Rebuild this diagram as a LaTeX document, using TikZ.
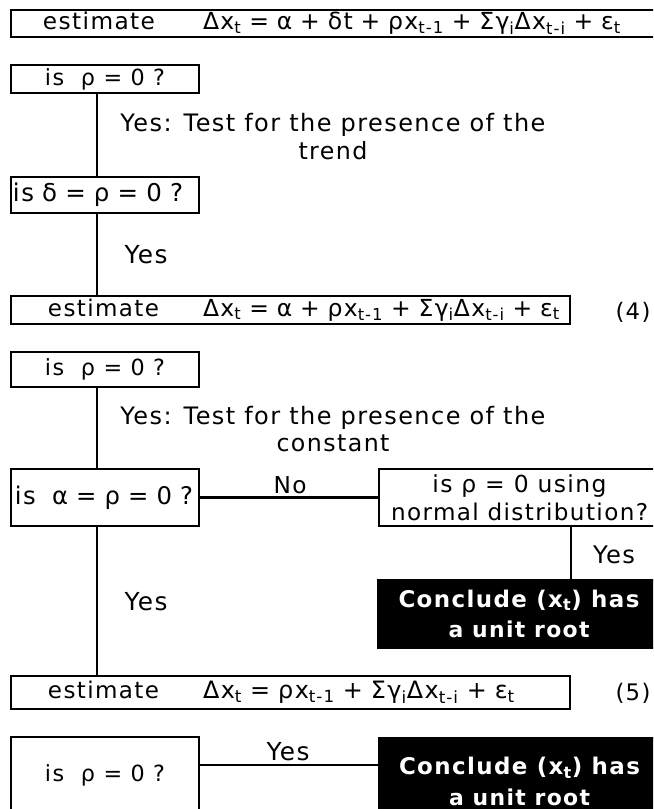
\documentclass[tikz,border=0pt]{standalone}
\usepackage{fontspec}
\usepackage{graphicx}
\setmainfont{DejaVu Sans}[LetterSpace=6]
\newcommand{\fitw}[2]{\resizebox{#1}{!}{#2}}
\begin{document}
\begin{tikzpicture}[x=0.75pt,y=-0.75pt,
  bx/.style={draw, line width=2pt, inner sep=0pt, outer sep=0pt, anchor=north west, align=center,
     font=\fontsize{16.9pt}{21pt}\selectfont},
  blk/.style={bx, fill=black, text=white, font=\fontsize{16.9pt}{23pt}\selectfont\bfseries},
  lbl/.style={inner sep=0pt, align=center, font=\fontsize{16.9pt}{20.5pt}\selectfont},
  ln/.style={line width=2pt}]
\clip (0,0) rectangle (653,809);
\fill[white] (0,0) rectangle (653,809);
% boxes
\node[bx, text width=486.75pt, minimum height=20.25pt, align=left] (b0) at (11,10)
  {\hspace*{24pt}\makebox[120pt][l]{\fitw{84pt}{estimate}}\fitw{313.5pt}{Δx\textsubscript{t} = α + δt + ρx\textsubscript{t-1} + Σγ\textsubscript{i}Δx\textsubscript{t-i} + ε\textsubscript{t}}};
\node[bx, minimum width=141pt, minimum height=21pt] (q1) at (11,65) {\fitw{90pt}{is~~ρ = 0 ?}};
\node[bx, text width=141pt, minimum height=27pt, align=left] (q2) at (11,177) {\hspace*{1.5pt}\fitw{127.5pt}{is δ = ρ = 0 ?}};
\node[bx, text width=419.25pt, minimum height=21pt, align=left] (e1) at (11,296)
  {\hspace*{27.75pt}\makebox[116.25pt][l]{\fitw{83.25pt}{estimate}}\fitw{267.75pt}{Δx\textsubscript{t} = α + ρx\textsubscript{t-1} + Σγ\textsubscript{i}Δx\textsubscript{t-i} + ε\textsubscript{t}}};
\node[bx, minimum width=141pt, minimum height=26.25pt] (q3) at (11,352) {\fitw{90pt}{is~~ρ = 0 ?}};
\node[bx, text width=141pt, minimum height=42.75pt, align=left] (q4) at (11,469) {\hspace*{3pt}\fitw{133.5pt}{is~~α = ρ = 0 ?}};
\node[bx, minimum width=210.75pt, minimum height=42.75pt] (q5) at (379,469)
  {\fitw{130.5pt}{is ρ = 0 using}\\\fitw{192.75pt}{normal distribution?}};
\node[blk, minimum width=211.5pt, minimum height=51pt] (c1) at (378,580)
  {\fitw{180.75pt}{Conclude (x\textsubscript{t}) has}\\\fitw{105.75pt}{a unit root}};
\node[bx, text width=419.25pt, minimum height=24.75pt, align=left] (e2) at (11,676)
  {\hspace*{27.75pt}\makebox[116.25pt][l]{\fitw{83.25pt}{estimate}}\fitw{234pt}{Δx\textsubscript{t} = ρx\textsubscript{t-1} + Σγ\textsubscript{i}Δx\textsubscript{t-i} + ε\textsubscript{t}}};
\node[bx, minimum width=141pt, minimum height=57pt] (q6) at (11,737) {\fitw{90pt}{is~~ρ = 0 ?}};
\node[blk, minimum width=210.75pt, minimum height=65pt] (c2) at (379,738)
  {\fitw{180.75pt}{Conclude (x\textsubscript{t}) has}\\\fitw{105.75pt}{a unit root}};
% labels
\node[lbl] (t1) at (333,136.5) {\fitw{318.75pt}{Yes: Test for the presence of the}\\\fitw{51.75pt}{trend}};
\node[lbl] (y1) at (146,255) {\fitw{32.25pt}{Yes}};
\node[lbl] (n4) at (633,312) {\fitw{26.25pt}{(4)}};
\node[lbl] (t2) at (333,429) {\fitw{318.75pt}{Yes: Test for the presence of the}\\\fitw{84.75pt}{constant}};
\node[lbl] (no) at (290,485) {\fitw{24.75pt}{No}};
\node[lbl] (y2) at (614,555) {\fitw{31.5pt}{Yes}};
\node[lbl] (y3) at (146,602) {\fitw{32.25pt}{Yes}};
\node[lbl] (n5) at (633,693) {\fitw{26.25pt}{(5)}};
\node[lbl] (y4) at (288,752) {\fitw{32.25pt}{Yes}};
% connectors
\coordinate (sp) at (97,0);
\coordinate (rx) at (571,0);
\coordinate (ly) at (0,765);
\draw[ln] (q1.south -| sp) -- (q2.north -| sp);
\draw[ln] (q2.south -| sp) -- (e1.north -| sp);
\draw[ln] (q3.south -| sp) -- (q4.north -| sp);
\draw[ln] (q4.south -| sp) -- (e2.north -| sp);
\draw[ln] (q4.east) -- (q5.west);
\draw[ln] (q5.south -| rx) -- (c1.north -| rx);
\draw[ln] (q6.east |- ly) -- (c2.west |- ly);
\end{tikzpicture}
\end{document}
